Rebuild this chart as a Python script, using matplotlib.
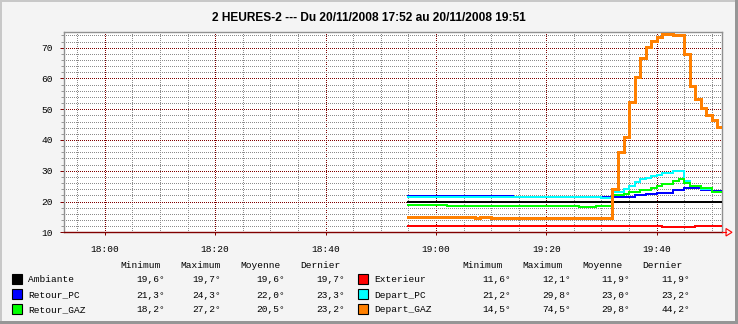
import matplotlib as mpl
import matplotlib.pyplot as plt
from matplotlib.patches import Rectangle, Polygon
from matplotlib.lines import Line2D
import numpy as np

mpl.rcParams["font.family"] = ["Liberation Mono", "DejaVu Sans Mono"]

W, H = 738, 324

# time axis: minutes after 18:00
t_start, t_end = -7.4, 111.9
t_last = 111.9  # end of the last sample

# each series: times where the value changes (min after 18:00) and the value from there on
ambiante_t = [55]
ambiante_v = [19.7]

exterieur_t = [55, 80, 101, 107]
exterieur_v = [12.1, 12.0, 11.6, 11.9]

retour_pc_t = [55, 74, 90, 96, 98, 100, 103, 105, 108, 110]
retour_pc_v = [21.7, 21.4, 21.5, 22.0, 22.3, 22.9, 23.6, 24.3, 23.9, 23.3]

depart_pc_t = [55, 90, 92, 94, 95, 96, 97, 98, 99, 100, 101, 103, 105, 106, 108, 110]
depart_pc_v = [21.4, 21.2, 23.0, 24.0, 24.9, 26.2, 27.2, 27.6, 28.3, 28.7, 29.3, 29.8,
               26.7, 25.0, 24.2, 23.2]

retour_gaz_t = [55, 62, 86, 89, 92, 94, 95, 97, 99, 100, 101, 103, 104, 105, 106, 108, 110]
retour_gaz_v = [18.8, 18.5, 18.2, 18.5, 22.2, 22.6, 23.1, 23.9, 24.4, 25.0, 25.8, 26.6,
                27.2, 26.1, 25.0, 24.4, 23.2]

depart_gaz_t = [55, 67, 68, 70, 92, 93, 94, 95, 96, 97, 98, 99, 100, 101, 103, 105, 106,
                107, 108, 109, 110, 111]
depart_gaz_v = [14.9, 14.5, 14.9, 14.5, 24.0, 36.1, 41.0, 52.3, 60.4, 66.6, 70.2, 72.3,
                73.6, 74.5, 74.2, 68.0, 57.5, 53.4, 50.4, 48.2, 46.4, 44.2]

names = ["Ambiante", "Exterieur", "Retour_PC", "Depart_PC", "Retour_GAZ", "Depart_GAZ"]
colors = ["#000000", "#FF0000", "#0000FF", "#00FFFF", "#00FF00", "#FF8000"]
widths = [1.44, 1.44, 1.44, 1.44, 1.44, 2.16]
series = [(ambiante_t, ambiante_v), (exterieur_t, exterieur_v), (retour_pc_t, retour_pc_v),
          (depart_pc_t, depart_pc_v), (retour_gaz_t, retour_gaz_v), (depart_gaz_t, depart_gaz_v)]

# legend statistics: minimum, maximum, moyenne, dernier
stats = {
    "Ambiante": ["19,6°", "19,7°", "19,6°", "19,7°"],
    "Retour_PC": ["21,3°", "24,3°", "22,0°", "23,3°"],
    "Retour_GAZ": ["18,2°", "27,2°", "20,5°", "23,2°"],
    "Exterieur": ["11,6°", "12,1°", "11,9°", "11,9°"],
    "Depart_PC": ["21,2°", "29,8°", "23,0°", "23,2°"],
    "Depart_GAZ": ["14,5°", "74,5°", "29,8°", "44,2°"],
}
headers = ["Minimum", "Maximum", "Moyenne", "Dernier"]
x_ticks = [0, 20, 40, 60, 80, 100]
x_labels = ["18:00", "18:20", "18:40", "19:00", "19:20", "19:40"]

title = "2 HEURES-2 --- Du 20/11/2008 17:52 au 20/11/2008 19:51"


def fx(px):
    return px / W


def fy(py):
    return 1 - py / H


fig = plt.figure(figsize=(W / 100, H / 100), dpi=100, facecolor="#F4F4F4")

ax_l, ax_r, ax_t, ax_b = 64, 722.3, 32.3, 232.3
ax = fig.add_axes([fx(ax_l), fy(ax_b), fx(ax_r - ax_l), (ax_b - ax_t) / H])
ax.set_facecolor("white")

for (t, v), c, lw in zip(series, colors, widths):
    ax.step(t + [t_last], v + [v[-1]], where="post", color=c, lw=lw, zorder=3,
            solid_joinstyle="miter")

ax.set_xlim(t_start, t_end)
ax.set_ylim(10, 75)

ax.set_xticks(x_ticks)
ax.set_xticklabels(x_labels)
ax.set_xticks(np.arange(-5, 111, 5), minor=True)
ax.set_yticks(np.arange(10, 71, 10))
ax.set_yticks(np.arange(12, 75, 2), minor=True)

dot = (0, (1, 2))
ax.grid(which="minor", color="#8C8C8C", lw=0.72, ls=dot, zorder=1, antialiased=False)
ax.grid(which="major", color="#800000", lw=0.72, ls=dot, zorder=2, antialiased=False)

ax.tick_params(which="major", length=3, width=0.72, color="#800000",
               labelsize=6.8, pad=5, labelcolor="black")
ax.tick_params(which="minor", length=2, width=0.72, color="#999999")
ax.tick_params(axis="x", which="major", length=2, pad=7)
ax.tick_params(axis="x", which="minor", length=0)

for s in ["top", "right", "left"]:
    ax.spines[s].set_color("#909090")
    ax.spines[s].set_linewidth(1.0)
ax.spines["bottom"].set_color("#800000")
ax.spines["bottom"].set_linewidth(1.0)

# axis arrow
fig.add_artist(Line2D([fx(722), fx(726)], [fy(232.3), fy(232.3)], color="red", lw=0.8))
fig.add_artist(Polygon([[fx(726), fy(228.5)], [fx(732), fy(232.3)], [fx(726), fy(236)]],
                       closed=True, fill=False, edgecolor="red", lw=0.8))

fig.text(0.5, fy(18), title, ha="center", va="center", fontsize=8.6,
         fontweight="bold", family=["Liberation Sans", "DejaVu Sans"])

# legend block
legend_fs = 6.8
blocks = [
    (["Ambiante", "Retour_PC", "Retour_GAZ"], 12, 28, [165, 221, 285, 345], [120, 180, 240, 300]),
    (["Exterieur", "Depart_PC", "Depart_GAZ"], 358, 374, [511, 571, 630, 690], [462, 522, 582, 642]),
]
row_y = [279, 294, 309]
for rows, sw_x, lab_x, val_r, head_x in blocks:
    for hx, h in zip(head_x, headers):
        fig.text(fx(hx), fy(265), h, ha="left", va="center", fontsize=legend_fs)
    for name, ry in zip(rows, row_y):
        c = colors[names.index(name)]
        fig.add_artist(Rectangle((fx(sw_x), fy(ry + 5)), fx(10), 10 / H,
                                 facecolor=c, edgecolor="black", lw=0.8))
        fig.text(fx(lab_x), fy(ry + 1), name, ha="left", va="center", fontsize=legend_fs)
        for vr, val in zip(val_r, stats[name]):
            fig.text(fx(vr), fy(ry + 1), val, ha="right", va="center", fontsize=legend_fs)

# 3d frame round the picture
fig.add_artist(Rectangle((0, 0), fx(2), 1, facecolor="#C8C8C8", edgecolor="none"))
fig.add_artist(Rectangle((0, fy(2)), 1, 2 / H, facecolor="#C8C8C8", edgecolor="none"))
fig.add_artist(Rectangle((fx(W - 3), 0), fx(3), 1, facecolor="#969696", edgecolor="none"))
fig.add_artist(Rectangle((0, 0), 1, 3 / H, facecolor="#969696", edgecolor="none"))

fig.savefig("out.png", dpi=100, facecolor=fig.get_facecolor())
